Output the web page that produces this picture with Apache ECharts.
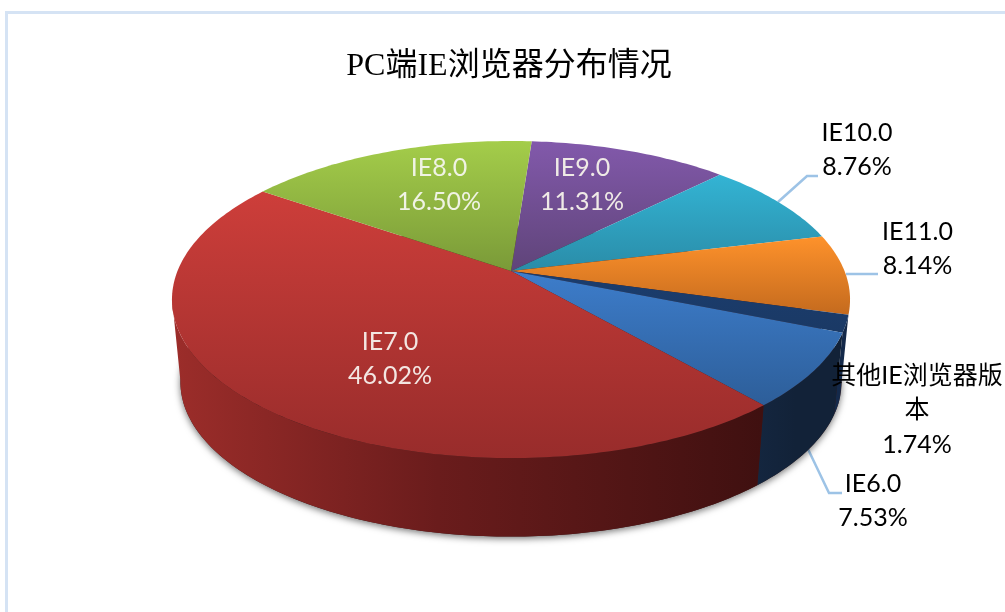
<!DOCTYPE html>
<html>
<head>
    <meta charset='utf-8'>
    <script src="https://cdn.jsdelivr.net/npm/echarts@6/dist/echarts.min.js"></script>
</head>
<body>
<style>
    html, body, #main {
        width: 100%;
        height: 100%;
        margin: 0;
        padding: 0;
        background: #fff;
    }
</style>
<div id="main"></div>
<script>

    // clockwise from the slice that starts just right of twelve o'clock
    var names = ['IE9.0', 'IE10.0', 'IE11.0', '其他IE浏览器版本', 'IE6.0', 'IE7.0', 'IE8.0'];
    var shares = [11.31, 8.76, 8.14, 1.74, 7.53, 46.02, 16.50];
    var titleText = 'PC端IE浏览器分布情况';

    var topColors = [
        ['#8259ab', '#5f4479'],
        ['#33b4d4', '#2a8ca8'],
        ['#fe922b', '#c46a1e'],
        ['#1b3d6e', '#1a3965'],
        ['#3d7dcb', '#2d5e99'],
        ['#cd3e3a', '#982c2b'],
        ['#a4cd4a', '#7a9a38']
    ];
    var wallColors = [null, null, null, ['#14294a', '#14294a'], ['#14263f', '#122238'], ['#9c2d2a', '#3f1010'], null];

    // label centre [x, y] and colour for each slice
    var labelPos = [[582, 185], [857, 150], [917.5, 249], [917, 410], [873, 501], [390, 359], [439, 185]];
    var labelColor = ['#efeae6', '#000', '#000', '#000', '#000', '#f3e6e2', '#f0f3e4'];
    // leader lines, one per outside label that has one
    var leaders = [
        [[778, 202], [807, 176], [818, 176]],
        [[846, 274], [878, 274]],
        [[807, 447], [829, 493], [842, 493]]
    ];

    // the disc in perspective
    var startAngle = 4.2;
    var cx = 511, cy = 271, rx = 333.5, ry = 153.4, persp = 0.18;
    var wallFrom = 105.7, wallTo = 260;
    var baseScale = 0.975, baseMidY = 382, topMidY = 299.5;

    function topPoint(deg) {
        var a = deg * Math.PI / 180;
        var x = Math.sin(a), z = -Math.cos(a);
        var s = 1 / (1 - persp * z);
        return [cx + rx * x * s, cy + ry * z * s];
    }

    function basePoint(deg) {
        var p = topPoint(deg);
        return [cx + (p[0] - cx) * baseScale, baseMidY + (p[1] - topMidY) * baseScale];
    }

    function arc(fn, from, to) {
        var pts = [];
        var n = Math.max(2, Math.ceil(Math.abs(to - from)));
        for (var i = 0; i <= n; i++) {
            pts.push(fn(from + (to - from) * i / n));
        }
        return pts;
    }

    function sliceRange(index) {
        var total = shares.reduce(function (a, b) { return a + b; }, 0);
        var from = startAngle;
        for (var i = 0; i < index; i++) {
            from += shares[i] / total * 360;
        }
        return [from, from + shares[index] / total * 360];
    }

    function renderBase(params) {
        if (params.dataIndex !== 0) {
            return;
        }
        return {
            type: 'polygon',
            z2: 0,
            shape: {points: arc(basePoint, 0, 360)},
            style: {
                fill: '#3a1a1a',
                shadowBlur: 7,
                shadowColor: 'rgba(0,0,0,0.55)',
                shadowOffsetY: 2
            }
        };
    }

    function renderWall(params) {
        var i = params.dataIndex;
        var range = sliceRange(i);
        var from = Math.max(range[0], wallFrom);
        var to = Math.min(range[1], wallTo);
        if (!wallColors[i] || to <= from) {
            return;
        }
        return {
            type: 'polygon',
            z2: 1,
            shape: {points: arc(topPoint, from, to).concat(arc(basePoint, to, from))},
            style: {
                fill: new echarts.graphic.LinearGradient(0, 0, 1, 0, [
                    {offset: 0, color: wallColors[i][0]},
                    {offset: 0.45, color: i === 5 ? '#6a1c1c' : wallColors[i][1]},
                    {offset: 1, color: wallColors[i][1]}
                ])
            }
        };
    }

    function renderTop(params) {
        var i = params.dataIndex;
        var range = sliceRange(i);
        return {
            type: 'polygon',
            z2: 2,
            shape: {points: [[cx, cy]].concat(arc(topPoint, range[0], range[1]))},
            style: {
                fill: new echarts.graphic.LinearGradient(0, 0, 0, 1, [
                    {offset: 0, color: topColors[i][0]},
                    {offset: 1, color: topColors[i][1]}
                ])
            }
        };
    }

    function renderLabel(params) {
        var i = params.dataIndex;
        return {
            type: 'text',
            z2: 5,
            x: labelPos[i][0],
            y: labelPos[i][1],
            style: {
                text: names[i] + '\n' + shares[i].toFixed(2) + '%',
                fill: labelColor[i],
                font: '25px Lato, "Noto Sans CJK SC", sans-serif',
                lineHeight: 34.5,
                align: 'center',
                verticalAlign: 'middle',
                width: 178,
                overflow: 'break'
            }
        };
    }

    function customSeries(render, z) {
        return {
            type: 'custom',
            coordinateSystem: 'none',
            silent: true,
            animation: false,
            z: z,
            renderItem: render,
            data: shares
        };
    }

    var chart = echarts.init(document.getElementById('main'));

    var graphics = [{
        type: 'polyline',
        shape: {points: [[6.5, 612], [6.5, 12.5], [1005, 12.5]]},
        style: {stroke: '#d5e3f4', lineWidth: 3, fill: null}
    }];
    leaders.forEach(function (pts) {
        graphics.push({
            type: 'polyline',
            shape: {points: pts},
            style: {stroke: '#9dc3e6', lineWidth: 2.5, fill: null}
        });
    });

    chart.setOption({
        backgroundColor: '#fff',
        animation: false,
        title: {
            text: titleText,
            left: 504,
            top: 46,
            textAlign: 'center',
            textStyle: {
                color: '#000',
                fontSize: 32,
                fontWeight: 'normal',
                fontFamily: '"Liberation Serif", "Noto Sans CJK SC", serif'
            }
        },
        graphic: graphics,
        series: [
            customSeries(renderBase, 1),
            customSeries(renderWall, 2),
            customSeries(renderTop, 3),
            customSeries(renderLabel, 4)
        ]
    });
</script>
</body>
</html>
